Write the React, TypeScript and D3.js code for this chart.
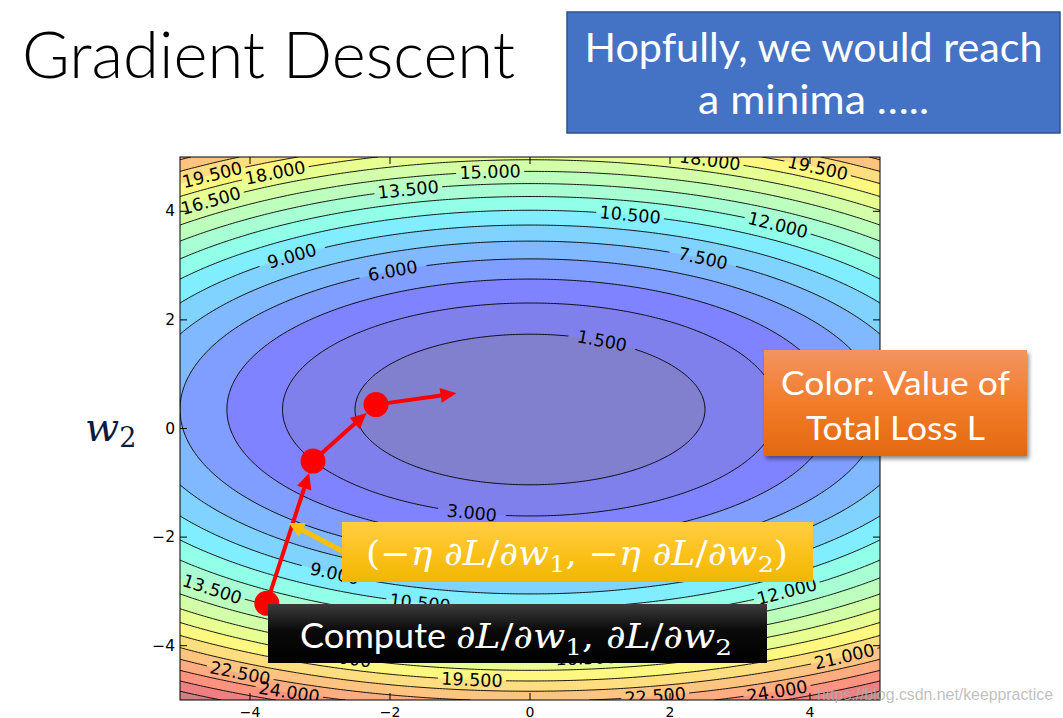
import React from "react";
import * as d3 from "d3";

const WIDTH = 1063;
const HEIGHT = 718;

// Loss surface L(w1, w2) = A·(w1 − C1)² + B·(w2 − C2)²
const lossA = 0.24;
const lossB = 0.78;
const lossC1 = 0.0;
const lossC2 = 0.35;

// contour levels (filled bands and lines)
const levels = [0, 1.5, 3, 4.5, 6, 7.5, 9, 10.5, 12, 13.5, 15, 16.5, 18, 19.5, 21, 22.5, 24, 25.5, 27, 28.5];
const xTicks = [-4, -2, 0, 2, 4];
const yTicks = [-4, -2, 0, 2, 4];

// inline contour labels: level, w1 where it sits, and which branch of the contour
const labelLevels = [19.5, 18, 16.5, 15, 13.5, 9, 6, 18, 19.5, 10.5, 12, 7.5, 1.5,
  3, 9, 13.5, 10.5, 18, 16.5, 12, 22.5, 24, 19.5, 21, 24, 22.5];
const labelW1 = [-4.54, -3.64, -4.56, -0.57, -1.74, -3.4, -1.96, 2.57, 4.11, 1.43, 3.54, 2.47, 1.03,
  -0.83, -2.79, -4.54, -1.57, -2.7, 0.8, 3.67, -4.14, -3.44, -0.83, 4.49, 3.53, 1.79];
const labelUpper = [true, true, true, true, true, true, true, true, true, true, true, true, true,
  false, false, false, false, false, false, false, false, false, false, false, false, false];

// gradient descent steps (the last entry is only an arrow tip)
const pathW1 = [-3.76, -3.1, -2.2, -1.05];
const pathW2 = [-3.22, -0.6, 0.44, 0.65];

// matplotlib "jet" colormap segments
const jetR = [[0, 0], [0.35, 0], [0.66, 1], [0.89, 1], [1, 0.5]];
const jetG = [[0, 0], [0.125, 0], [0.375, 1], [0.64, 1], [0.91, 0], [1, 0]];
const jetB = [[0, 0.5], [0.11, 1], [0.34, 1], [0.65, 0], [1, 0]];

function seg(pts: number[][], t: number) {
  if (t <= pts[0][0]) return pts[0][1];
  for (let i = 1; i < pts.length; i++) {
    if (t <= pts[i][0]) {
      const [x0, y0] = pts[i - 1];
      const [x1, y1] = pts[i];
      return y0 + ((t - x0) / (x1 - x0)) * (y1 - y0);
    }
  }
  return pts[pts.length - 1][1];
}

function jetAlpha(t: number, alpha: number) {
  const c = [seg(jetR, t), seg(jetG, t), seg(jetB, t)].map((v) =>
    Math.round(255 * (alpha * v + (1 - alpha)))
  );
  return `rgb(${c[0]},${c[1]},${c[2]})`;
}

const loss = (a: number, b: number) => lossA * (a - lossC1) ** 2 + lossB * (b - lossC2) ** 2;

export default function App() {
  const L = 180, R = 880, T = 157, B = 700;
  const x = d3.scaleLinear().domain([-5, 5]).range([L, R]);
  const y = d3.scaleLinear().domain([-5, 5]).range([B, T]);

  const n = 241;
  const step = 10 / (n - 1);
  const values: number[] = new Array(n * n);
  for (let j = 0; j < n; j++)
    for (let i = 0; i < n; i++) values[j * n + i] = loss(-5 + i * step, -5 + j * step);

  const contours = d3.contours().size([n, n]).thresholds(levels.slice(1))(values);
  const proj = d3.geoTransform({
    point(cx: number, cy: number) {
      (this as any).stream.point(x(-5 + (cx - 0.5) * step), y(-5 + (cy - 0.5) * step));
    },
  });
  const geo = d3.geoPath(proj as any);
  const vmax = levels[levels.length - 1];
  const bandColor = (k: number) => jetAlpha((levels[k] + levels[k + 1]) / 2 / vmax, 0.5);

  const kx = x(1) - x(0);
  const ky = y(1) - y(0);

  const labels = labelLevels.map((lv, i) => {
    const w1 = labelW1[i];
    const r = Math.sqrt(Math.max(0, (lv - lossA * (w1 - lossC1) ** 2) / lossB));
    const w2 = labelUpper[i] ? lossC2 + r : lossC2 - r;
    const gx = (2 * lossA * (w1 - lossC1)) / kx;
    const gy = (2 * lossB * (w2 - lossC2)) / ky;
    let ang = (Math.atan2(gx, -gy) * 180) / Math.PI;
    if (ang > 90) ang -= 180;
    if (ang < -90) ang += 180;
    return { px: x(w1), py: y(w2), ang, text: lv.toFixed(3) };
  });

  // red descent arrows
  const dotR = 12.5;
  const pts = pathW1.map((w, i) => [x(w), y(pathW2[i])]);
  const arrows = pts.slice(0, -1).map((p, i) => {
    const q = pts[i + 1];
    const dx = q[0] - p[0], dy = q[1] - p[1];
    const len = Math.hypot(dx, dy);
    const ux = dx / len, uy = dy / len;
    const isDot = i + 1 < pts.length - 1;
    const tip = isDot ? [q[0] - ux * dotR, q[1] - uy * dotR] : q;
    const hl = 16, hw = 7.5;
    const base = [tip[0] - ux * hl, tip[1] - uy * hl];
    const head = [tip, [base[0] - uy * hw, base[1] + ux * hw], [base[0] + uy * hw, base[1] - ux * hw]];
    return { x1: p[0], y1: p[1], x2: base[0] + ux * 2, y2: base[1] + uy * 2, head };
  });

  // yellow pointer arrow toward the first step
  const ya = { x1: 342, y1: 551, x2: 289, y2: 523 };
  const yl = Math.hypot(ya.x2 - ya.x1, ya.y2 - ya.y1);
  const yux = (ya.x2 - ya.x1) / yl, yuy = (ya.y2 - ya.y1) / yl;
  const yBase = [ya.x2 - yux * 15, ya.y2 - yuy * 15];
  const yHead = [[ya.x2, ya.y2], [yBase[0] - yuy * 8, yBase[1] + yux * 8], [yBase[0] + yuy * 8, yBase[1] - yux * 8]];

  const mathFont = "'DejaVu Serif', 'Liberation Serif', serif";
  const sans = "Lato, 'Open Sans', 'Noto Sans', sans-serif";

  return (
    <svg width={WIDTH} height={HEIGHT} style={{ position: "absolute", left: 0, top: 0, background: "#fff" }}>
      <defs>
        <clipPath id="plotClip">
          <rect x={L} y={T} width={R - L} height={B - T} />
        </clipPath>
        <mask id="labelMask" maskUnits="userSpaceOnUse" x={0} y={0} width={WIDTH} height={HEIGHT}>
          <rect x={0} y={0} width={WIDTH} height={HEIGHT} fill="#fff" />
          {labels.map((lb, i) => (
            <rect key={i} x={-34} y={-8} width={68} height={16} fill="#000"
              transform={`translate(${lb.px},${lb.py}) rotate(${lb.ang})`} />
          ))}
        </mask>
        <linearGradient id="orangeGrad" x1="0" y1="0" x2="0" y2="1">
          <stop offset="0" stopColor="#f39461" />
          <stop offset="0.5" stopColor="#f27c2a" />
          <stop offset="1" stopColor="#e2690f" />
        </linearGradient>
        <linearGradient id="yellowGrad" x1="0" y1="0" x2="0" y2="1">
          <stop offset="0" stopColor="#ffcd45" />
          <stop offset="0.5" stopColor="#fcc21d" />
          <stop offset="1" stopColor="#efb700" />
        </linearGradient>
        <linearGradient id="blackGrad" x1="0" y1="0" x2="0" y2="1">
          <stop offset="0" stopColor="#3c3c3c" />
          <stop offset="0.45" stopColor="#0a0a0a" />
          <stop offset="1" stopColor="#000" />
        </linearGradient>
        <filter id="boxShadow" x="-10%" y="-10%" width="125%" height="130%">
          <feDropShadow dx="2" dy="3" stdDeviation="2" floodColor="#000" floodOpacity="0.45" />
        </filter>
      </defs>

      {/* title and top note */}
      <text x={22} y={78} fontFamily={sans} fontWeight={300} fontSize={66} fill="#000"
        textLength={493} lengthAdjust="spacingAndGlyphs">Gradient Descent</text>
      <rect x={567} y={12} width={493} height={121} fill="#4472c4" stroke="#2f528f" strokeWidth={1.5} />
      <text x={813.5} y={62} textAnchor="middle" fontFamily={sans} fontSize={40} fill="#fff"
        textLength={458} lengthAdjust="spacingAndGlyphs">Hopfully, we would reach</text>
      <text x={813.5} y={114} textAnchor="middle" fontFamily={sans} fontSize={40} fill="#fff"
        textLength={231} lengthAdjust="spacingAndGlyphs">a minima …..</text>

      {/* filled contours */}
      <g clipPath="url(#plotClip)">
        <rect x={L} y={T} width={R - L} height={B - T} fill={bandColor(0)} />
        {contours.map((c, k) =>
          k + 1 < levels.length - 1 ? (
            <path key={k} d={geo(c as any) || ""} fill={bandColor(k + 1)} fillRule="evenodd" />
          ) : null
        )}
        <g mask="url(#labelMask)">
          {contours.map((c, k) => (
            <path key={k} d={geo(c as any) || ""} fill="none" stroke="#000" strokeWidth={0.9} />
          ))}
        </g>
        {labels.map((lb, i) => (
          <text key={i} transform={`translate(${lb.px},${lb.py}) rotate(${lb.ang})`}
            textAnchor="middle" dominantBaseline="central" fontFamily="'DejaVu Sans', sans-serif"
            fontSize={17.5} fill="#000">{lb.text}</text>
        ))}
      </g>

      {/* axes frame and ticks */}
      <rect x={L} y={T} width={R - L} height={B - T} fill="none" stroke="#000" strokeWidth={1} />
      {xTicks.map((t) => (
        <g key={`x${t}`}>
          <line x1={x(t)} x2={x(t)} y1={B} y2={B - 7} stroke="#000" />
          <line x1={x(t)} x2={x(t)} y1={T} y2={T + 7} stroke="#000" />
          <text x={x(t)} y={716.5} textAnchor="middle" fontFamily="'DejaVu Sans', sans-serif" fontSize={14}>
            {t < 0 ? `\u2212${-t}` : `${t}`}
          </text>
        </g>
      ))}
      {yTicks.map((t) => (
        <g key={`y${t}`}>
          <line x1={L} x2={L + 7} y1={y(t)} y2={y(t)} stroke="#000" />
          <line x1={R} x2={R - 7} y1={y(t)} y2={y(t)} stroke="#000" />
          <text x={175} y={y(t)} textAnchor="end" dominantBaseline="central"
            fontFamily="'DejaVu Sans', sans-serif" fontSize={15.5}>
            {t < 0 ? `\u2212${-t}` : `${t}`}
          </text>
        </g>
      ))}
      <text x={85} y={441} fontFamily={mathFont} fontStyle="italic" fontSize={40} fill="#0c1a3c">
        w<tspan fontStyle="normal" fontSize={27} dy={6}>2</tspan>
      </text>

      {/* descent path */}
      {arrows.map((a, i) => (
        <g key={i}>
          <line x1={a.x1} y1={a.y1} x2={a.x2} y2={a.y2} stroke="#ff0000" strokeWidth={4} />
          <polygon points={a.head.map((p) => p.join(",")).join(" ")} fill="#ff0000" />
        </g>
      ))}
      {pts.slice(0, -1).map((p, i) => (
        <circle key={i} cx={p[0]} cy={p[1]} r={dotR} fill="#ff0000" />
      ))}

      {/* yellow pointer and update-rule box */}
      <line x1={ya.x1} y1={ya.y1} x2={yBase[0] + yux * 2} y2={yBase[1] + yuy * 2} stroke="#ffc000" strokeWidth={5} />
      <polygon points={yHead.map((p) => p.join(",")).join(" ")} fill="#ffc000" />
      <rect x={342} y={522} width={471} height={60} fill="url(#yellowGrad)" />
      <text x={366} y={565} fontFamily={mathFont} fontSize={33} fill="#fff" textLength={422} lengthAdjust="spacingAndGlyphs">
        <tspan>(−</tspan><tspan fontStyle="italic">η</tspan><tspan> ∂</tspan><tspan fontStyle="italic">L</tspan>
        <tspan>/∂</tspan><tspan fontStyle="italic">w</tspan><tspan fontSize={23} dy={7}>1</tspan>
        <tspan dy={-7}>, −</tspan><tspan fontStyle="italic">η</tspan><tspan> ∂</tspan><tspan fontStyle="italic">L</tspan>
        <tspan>/∂</tspan><tspan fontStyle="italic">w</tspan><tspan fontSize={23} dy={7}>2</tspan><tspan dy={-7}>)</tspan>
      </text>

      {/* gradient computation box */}
      <rect x={268} y={604} width={499} height={59} fill="url(#blackGrad)" />
      <text x={300} y={648} fontFamily={sans} fontSize={35} fill="#fff" textLength={146} lengthAdjust="spacingAndGlyphs">Compute</text>
      <text x={456} y={648} fontFamily={mathFont} fontSize={33} fill="#fff" textLength={276} lengthAdjust="spacingAndGlyphs">
        <tspan>∂</tspan><tspan fontStyle="italic">L</tspan><tspan>/∂</tspan><tspan fontStyle="italic">w</tspan>
        <tspan fontSize={23} dy={7}>1</tspan><tspan dy={-7}>, ∂</tspan><tspan fontStyle="italic">L</tspan>
        <tspan>/∂</tspan><tspan fontStyle="italic">w</tspan><tspan fontSize={23} dy={7}>2</tspan>
      </text>

      {/* colour legend note */}
      <rect x={764} y={350} width={263} height={106} fill="url(#orangeGrad)" filter="url(#boxShadow)" />
      <text x={895.5} y={395} textAnchor="middle" fontFamily={sans} fontSize={33} fill="#fff"
        textLength={229} lengthAdjust="spacingAndGlyphs">Color: Value of</text>
      <text x={895.5} y={440} textAnchor="middle" fontFamily={sans} fontSize={33} fill="#fff"
        textLength={179} lengthAdjust="spacingAndGlyphs">Total Loss L</text>

      <text x={817} y={700} fontFamily="'Liberation Sans', Arial, sans-serif" fontSize={16}
        fill="rgba(175,175,175,0.8)" textLength={236} lengthAdjust="spacingAndGlyphs">https://blog.csdn.net/keeppractice</text>
    </svg>
  );
}
